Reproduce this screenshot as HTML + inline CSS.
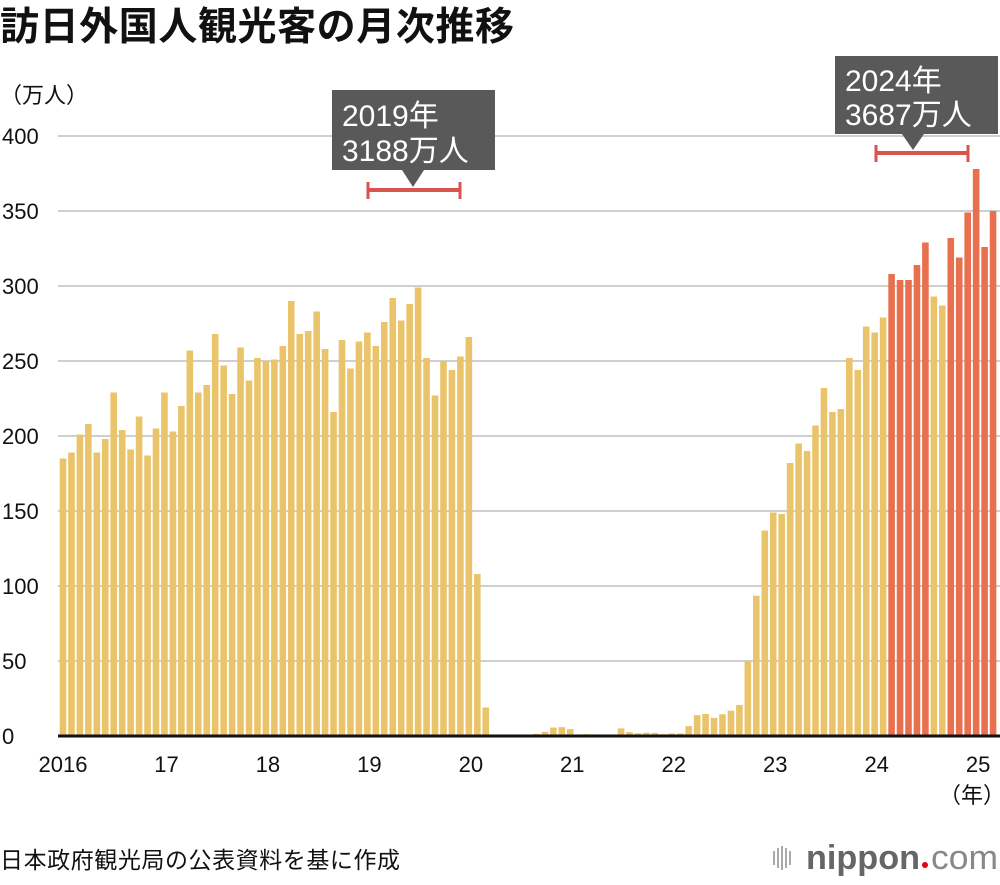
<!DOCTYPE html>
<html><head><meta charset="utf-8">
<style>
body{margin:0;background:#fff;width:1000px;height:880px;overflow:hidden;font-family:"Liberation Sans","Noto Sans CJK JP",sans-serif;}
</style></head>
<body>
<svg id="chart" width="1000" height="880" xmlns="http://www.w3.org/2000/svg" style="font-family:'Liberation Sans','Noto Sans CJK JP',sans-serif">
<text x="0" y="40" font-size="39" font-weight="bold" fill="#111" textLength="514">訪日外国人観光客の月次推移</text>
<text x="0" y="103" font-size="22" fill="#111">（万人）</text>
<g id="grid"></g>
<g id="bars"></g>
<g id="xlabels"></g>
<text x="972" y="803" font-size="22" text-anchor="middle" fill="#111">（年）</text>
<g>
<rect x="332" y="90" width="163" height="80" fill="#595959"/>
<polygon points="402,170 424,170 413,187" fill="#595959"/>
<text x="342" y="126" font-size="30" fill="#fff">2019年</text>
<text x="342" y="161" font-size="30" fill="#fff">3188万人</text>
<line x1="367" y1="190" x2="460" y2="190" stroke="#d9534f" stroke-width="4"/>
<line x1="368" y1="182" x2="368" y2="199" stroke="#d9534f" stroke-width="3"/>
<line x1="460" y1="182" x2="460" y2="199" stroke="#d9534f" stroke-width="3"/>
</g>
<g>
<rect x="835" y="56" width="163" height="78" fill="#595959"/>
<polygon points="902,134 924,134 913,150" fill="#595959"/>
<text x="845" y="91" font-size="30" fill="#fff">2024年</text>
<text x="845" y="125" font-size="30" fill="#fff">3687万人</text>
<line x1="875" y1="153" x2="968" y2="153" stroke="#d9534f" stroke-width="4"/>
<line x1="876" y1="145" x2="876" y2="162" stroke="#d9534f" stroke-width="3"/>
<line x1="968" y1="145" x2="968" y2="162" stroke="#d9534f" stroke-width="3"/>
</g>
<text x="0" y="868" font-size="23" fill="#111" textLength="400">日本政府観光局の公表資料を基に作成</text>
<g>
<g fill="#aaa"><rect x="773" y="851" width="2" height="14"/><rect x="777" y="848" width="2" height="20"/><rect x="781" y="846" width="2" height="24"/><rect x="785" y="848" width="2" height="20"/><rect x="789" y="851" width="2" height="14"/></g>
<text x="806" y="869" font-size="34" fill="#666" font-weight="bold" textLength="114" lengthAdjust="spacingAndGlyphs">nippon</text>
<circle cx="925" cy="865" r="3" fill="#e60012"/>
<text x="931" y="869" font-size="34" fill="#888" textLength="67" lengthAdjust="spacingAndGlyphs">com</text>
</g>
</svg>
<script>
const yTicks=[0,50,100,150,200,250,300,350,400];
const yearLabels=["2016","17","18","19","20","21","22","23","24","25"];
const v2016=[185,189,201,208,189,198,229,204,191,213,187,205];
const v2017=[229,203,220,257,229,234,268,247,228,259,237,252];
const v2018=[250,251,260,290,268,270,283,258,216,264,245,263];
const v2019=[269,260,276,292,277,288,299,252,227,250,244,253];
const v2020=[266,108,19,0.3,0.2,0.3,0.4,0.9,1.4,2.8,5.6,5.9];
const v2021=[4.6,0.7,1.2,1.1,1.0,0.9,5.1,2.6,1.8,2.2,2.1,1.2];
const v2022=[1.7,1.7,6.6,13.9,14.7,12.1,14.5,16.9,20.7,49.9,93.5,137];
const v2023=[149,148,182,195,190,207,232,216,218,252,244,273];
const v2024=[269,279,308,304,304,314,329,293,287,332,319,349];
const v2025=[378,326,350];
const highlight2024=[0,0,1,1,1,1,1,0,0,1,1,1];
const highlight2025=[1,1,1];
const values=[].concat(v2016,v2017,v2018,v2019,v2020,v2021,v2022,v2023,v2024,v2025);
const hl=new Array(96).fill(0).concat(highlight2024,highlight2025);
const NS="http://www.w3.org/2000/svg";
const y0=736,pxPer=1.5,x0=63,pitch=8.455,bw=6.6;
const yS=v=>y0-v*pxPer;
const xS=i=>x0+i*pitch;
const grid=document.getElementById('grid');
yTicks.forEach(t=>{
 const l=document.createElementNS(NS,'line');
 
 
 l.setAttribute('x1',58);l.setAttribute('x2',1000);
 l.setAttribute('y1',yS(t));l.setAttribute('y2',yS(t));
 l.setAttribute('stroke','#cfcfcf');l.setAttribute('stroke-width',2);
 if(t!==0)grid.appendChild(l);
 const tx=document.createElementNS(NS,'text');
 
 
 tx.setAttribute('x',2);tx.setAttribute('y',yS(t)+8);
 tx.setAttribute('font-size',22);tx.setAttribute('fill','#111');
 tx.textContent=t;grid.appendChild(tx);
});
const bars=document.getElementById('bars');
values.forEach((v,i)=>{
 const r=document.createElementNS(NS,'rect');
 
 
 r.setAttribute('x',xS(i)-bw/2);r.setAttribute('width',bw);
 r.setAttribute('y',yS(v));r.setAttribute('height',v*pxPer);
 r.setAttribute('fill',hl[i]?'#E8704F':'#EAC46A');
 bars.appendChild(r);
});
const base=document.createElementNS(NS,'line');


base.setAttribute('x1',58);base.setAttribute('x2',1000);base.setAttribute('y1',y0);base.setAttribute('y2',y0);
base.setAttribute('stroke','#111');base.setAttribute('stroke-width',3);
bars.appendChild(base);
const xl=document.getElementById('xlabels');
yearLabels.forEach((s,k)=>{
 const t=document.createElementNS(NS,'text');
 
 
 t.setAttribute('x',xS(k*12)+(k===0?0:2));t.setAttribute('y',772);
 t.setAttribute('font-size',22);t.setAttribute('text-anchor','middle');t.setAttribute('fill','#111');
 t.textContent=s;xl.appendChild(t);
});
</script>
</body></html>
